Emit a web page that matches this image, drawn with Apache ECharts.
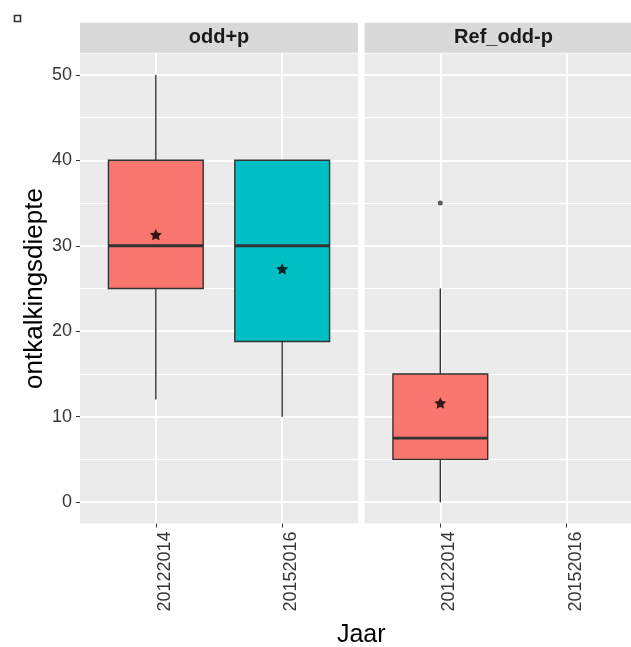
<!DOCTYPE html>
<html>
<head>
<meta charset="utf-8">
<script src="https://cdn.jsdelivr.net/npm/echarts@6/dist/echarts.min.js"></script>
<style>
  html, body { margin: 0; padding: 0; background: #ffffff; overflow: hidden; }
  /* the right facet runs past the visible page edge */
  #chart { width: 645px; height: 647px; }
</style>
</head>
<body>
<div id="chart"></div>
<script>
// Facets and x categories
const panels = ['odd+p', 'Ref_odd-p'];
const years = ['20122014', '20152016'];

// Box statistics, one entry per (facet, year) group
const groupPanel = ['odd+p', 'odd+p', 'Ref_odd-p'];
const groupYear = ['20122014', '20152016', '20122014'];
const lowerWhisker = [12, 10, 0];
const lowerHinge = [25, 18.8, 5];
const medians = [30, 30, 7.5];
const upperHinge = [40, 40, 15];
const upperWhisker = [50, 40, 25];
const means = [31.3, 27.3, 11.6];
const outliers = [[], [], [35]];

// Axis ticks
const yMajorTicks = [0, 10, 20, 30, 40, 50];
const yMinorTicks = [5, 15, 25, 35, 45];

// Styling
const yearColors = ['#F8766D', '#00BFC4'];
const panelBg = '#EBEBEB';
const stripBg = '#D9D9D9';
const outlineColor = '#333333';
const tickTextColor = '#363636';
const fontFamily = 'Liberation Sans, Arial, sans-serif';
const starPath = 'path://M50 0 L64.69 29.77 L97.55 34.55 L73.78 57.73 L79.39 90.45 L50 75 L20.61 90.45 L26.22 57.73 L2.45 34.55 L35.31 29.77 Z';

const panelLayout = [
  { left: 80, width: 278 },
  { left: 364.5, width: 278 }
];
const panelTop = 53.5;
const panelHeight = 470;

const xPos = y => years.indexOf(y) + 1;

const grids = panels.map((p, i) => ({
  left: panelLayout[i].left,
  width: panelLayout[i].width,
  top: panelTop,
  height: panelHeight,
  show: true,
  backgroundColor: panelBg,
  borderWidth: 0
}));

const xAxes = panels.map((p, i) => ({
  type: 'value',
  gridIndex: i,
  position: 'bottom',
  min: 0.4,
  max: 2.6,
  axisLine: { show: false, onZero: false },
  axisTick: {
    show: true, customValues: [1, 2], length: 4,
    lineStyle: { color: outlineColor, width: 1 }
  },
  axisLabel: {
    customValues: [1, 2],
    formatter: v => years[Math.round(v) - 1] || '',
    rotate: 90,
    verticalAlign: 'top',
    margin: 8,
    fontSize: 18,
    color: tickTextColor,
    fontFamily: fontFamily
  },
  splitLine: { show: true, lineStyle: { color: '#ffffff', width: 2 } }
}));

const yAxes = [];
panels.forEach((p, i) => {
  yAxes.push({
    type: 'value',
    gridIndex: i,
    min: -2.5,
    max: 52.5,
    position: 'left',
    name: i === 0 ? 'ontkalkingsdiepte' : '',
    nameLocation: 'middle',
    nameGap: 28,
    nameTextStyle: { fontSize: 26, color: '#000000', fontFamily: fontFamily },
    axisLine: { show: false, onZero: false },
    axisTick: {
      show: i === 0, customValues: yMajorTicks, length: 4,
      lineStyle: { color: outlineColor, width: 1 }
    },
    axisLabel: {
      show: i === 0,
      customValues: yMajorTicks,
      margin: 8,
      fontSize: 18,
      color: tickTextColor,
      fontFamily: fontFamily
    },
    splitLine: { show: true, lineStyle: { color: '#ffffff', width: 2 } }
  });
  // minor grid lines
  yAxes.push({
    type: 'value',
    gridIndex: i,
    min: -2.5,
    max: 52.5,
    position: 'left',
    axisLine: { show: false, onZero: false },
    axisTick: { show: false, customValues: yMinorTicks },
    axisLabel: { show: false, customValues: yMinorTicks },
    splitLine: { show: true, lineStyle: { color: '#ffffff', width: 1 } }
  });
});

function renderBox(params, api) {
  const x = api.value(0);
  const lo = api.coord([x, api.value(1)]);
  const q1 = api.coord([x, api.value(2)]);
  const md = api.coord([x, api.value(3)]);
  const q3 = api.coord([x, api.value(4)]);
  const hi = api.coord([x, api.value(5)]);
  const half = api.size([0.75, 0])[0] / 2;
  const cx = lo[0];
  const fill = yearColors[api.value(6)];
  const lineStyle = { stroke: outlineColor, lineWidth: 1.4 };
  return {
    type: 'group',
    children: [
      { type: 'line', shape: { x1: cx, y1: lo[1], x2: cx, y2: q1[1] }, style: lineStyle },
      { type: 'line', shape: { x1: cx, y1: q3[1], x2: cx, y2: hi[1] }, style: lineStyle },
      {
        type: 'rect',
        shape: { x: cx - half, y: q3[1], width: half * 2, height: q1[1] - q3[1] },
        style: { fill: fill, stroke: outlineColor, lineWidth: 1.4 }
      },
      {
        type: 'line',
        shape: { x1: cx - half, y1: md[1], x2: cx + half, y2: md[1] },
        style: { stroke: outlineColor, lineWidth: 2.8 }
      }
    ]
  };
}

const series = [];
panels.forEach((p, i) => {
  const boxData = [];
  const meanData = [];
  const outlierData = [];
  groupPanel.forEach((gp, g) => {
    if (gp !== p) return;
    const x = xPos(groupYear[g]);
    boxData.push([x, lowerWhisker[g], lowerHinge[g], medians[g], upperHinge[g], upperWhisker[g], years.indexOf(groupYear[g])]);
    meanData.push([x, means[g]]);
    outliers[g].forEach(v => outlierData.push([x, v]));
  });
  series.push({
    type: 'custom',
    xAxisIndex: i,
    yAxisIndex: i * 2,
    renderItem: renderBox,
    encode: { x: 0, y: [1, 2, 3, 4, 5] },
    data: boxData,
    silent: true,
    z: 2
  });
  series.push({
    type: 'scatter',
    xAxisIndex: i,
    yAxisIndex: i * 2,
    data: outlierData,
    symbol: 'circle',
    symbolSize: 5,
    itemStyle: { color: outlineColor },
    silent: true,
    z: 3
  });
  series.push({
    type: 'scatter',
    xAxisIndex: i,
    yAxisIndex: i * 2,
    data: meanData,
    symbol: starPath,
    symbolSize: 12,
    symbolKeepAspect: true,
    itemStyle: { color: '#000000' },
    silent: true,
    z: 4
  });
});

// Facet strips, axis title and the legend key marker
const graphics = [];
panels.forEach((p, i) => {
  graphics.push({
    type: 'rect',
    shape: { x: panelLayout[i].left, y: 22.7, width: panelLayout[i].width, height: 30 },
    style: { fill: stripBg },
    silent: true
  });
  graphics.push({
    type: 'text',
    x: panelLayout[i].left + panelLayout[i].width / 2,
    y: 37.7,
    style: {
      text: p, fill: '#1A1A1A', font: 'bold 20px ' + fontFamily,
      align: 'center', verticalAlign: 'middle'
    },
    silent: true
  });
});
graphics.push({
  type: 'text',
  x: (panelLayout[0].left + panelLayout[1].left + panelLayout[1].width) / 2,
  y: 635,
  style: {
    text: 'Jaar', fill: '#000000', font: '25px ' + fontFamily,
    align: 'center', verticalAlign: 'middle'
  },
  silent: true
});
graphics.push({
  type: 'rect',
  shape: { x: 14.5, y: 15.5, width: 6, height: 6 },
  style: { fill: 'none', stroke: '#333333', lineWidth: 1.6 },
  silent: true
});

const chart = echarts.init(document.getElementById('chart'), null, { renderer: 'canvas' });
chart.setOption({
  animation: false,
  backgroundColor: '#ffffff',
  grid: grids,
  xAxis: xAxes,
  yAxis: yAxes,
  series: series,
  graphic: graphics
});
</script>
</body>
</html>
